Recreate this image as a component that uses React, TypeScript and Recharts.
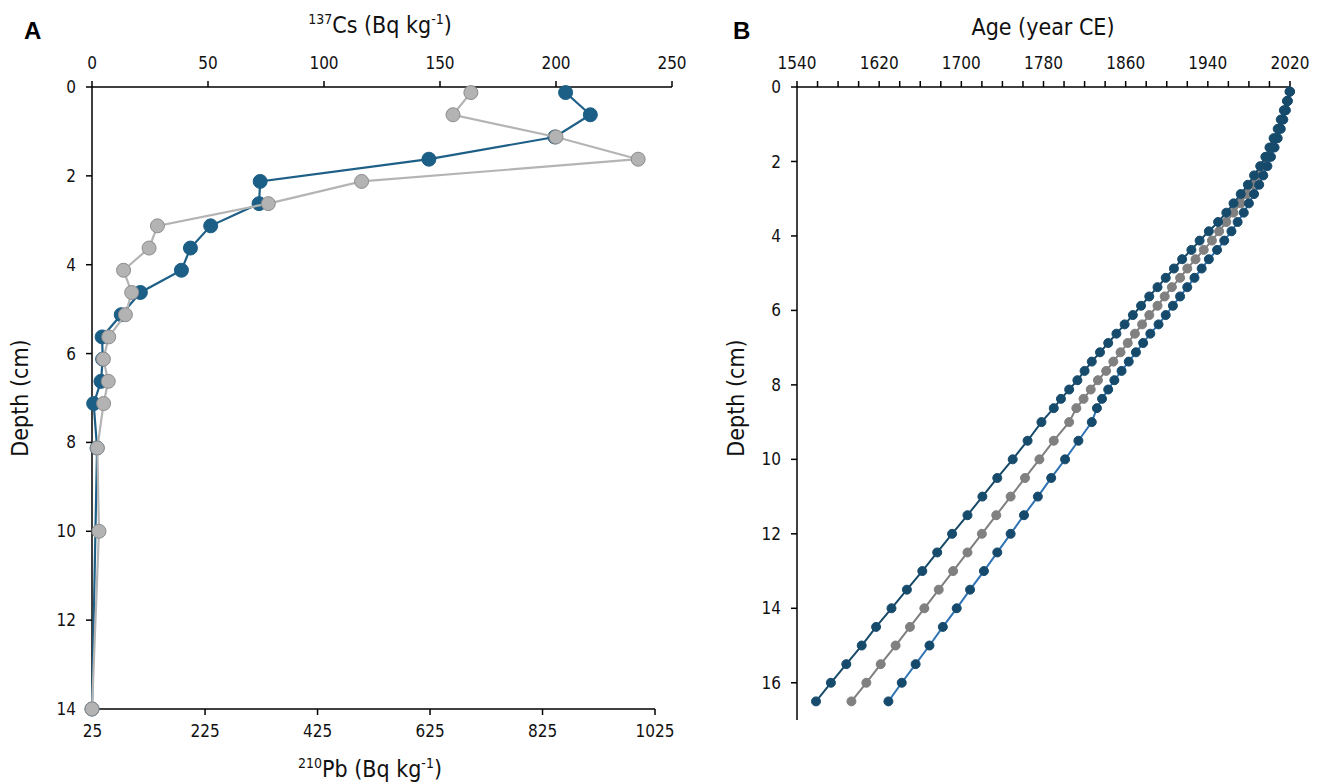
import { ScatterChart, Scatter, XAxis, YAxis, ReferenceLine } from 'recharts';

const FONT = "'Liberation Sans Narrow', 'DejaVu Sans Condensed', 'Noto Sans', sans-serif";

// Panel A: activity profiles (depth in cm)
const depthsPb = [0.125, 0.625, 1.125, 1.625, 2.125, 2.625, 3.125, 3.625, 4.125, 4.625, 5.125, 5.625, 6.125, 6.625, 7.125, 8.125, 14];
const pb210 = [866, 910, 847, 623, 323, 321, 235, 199, 183, 110, 76, 42, 43, 40, 27, 33, 24];
const depthsCs = [0.125, 0.625, 1.125, 1.625, 2.125, 2.625, 3.125, 3.625, 4.125, 4.625, 5.125, 5.625, 6.125, 6.625, 7.125, 8.125, 10, 14];
const cs137 = [163.3, 155.6, 200, 235.4, 116.2, 76, 28.2, 24.6, 13.6, 17.1, 14.4, 7.2, 4.9, 7.0, 5.0, 2.3, 3.0, 0];

const csTicks = [0, 50, 100, 150, 200, 250];
const pbTicks = [25, 225, 425, 625, 825, 1025];
const depthTicksA = [0, 2, 4, 6, 8, 10, 12, 14];

// Panel B: age-depth model (0.25 cm slices to 8.75 cm, then 0.5 cm slices)
const depthsB = [
  0.125, 0.375, 0.625, 0.875, 1.125, 1.375, 1.625, 1.875, 2.125, 2.375, 2.625, 2.875,
  3.125, 3.375, 3.625, 3.875, 4.125, 4.375, 4.625, 4.875, 5.125, 5.375, 5.625, 5.875,
  6.125, 6.375, 6.625, 6.875, 7.125, 7.375, 7.625, 7.875, 8.125, 8.375, 8.625,
  9, 9.5, 10, 10.5, 11, 11.5, 12, 12.5, 13, 13.5, 14, 14.5, 15, 15.5, 16, 16.5,
];
const ageLower = [
  2019.5, 2017, 2014, 2011, 2008, 2004, 2000, 1996, 1991, 1985, 1979, 1972,
  1965, 1958, 1950, 1941, 1932, 1924, 1915, 1907, 1899, 1891, 1883, 1875,
  1867, 1859, 1851, 1843, 1835, 1827, 1820, 1813, 1805, 1797, 1790,
  1778, 1764.5, 1750, 1735, 1720.5, 1706, 1691, 1676.5, 1662, 1647, 1632, 1617, 1603, 1588, 1573, 1558.5,
];
const ageMean = [
  2020, 2017.5, 2015, 2012, 2009, 2006, 2002, 1998, 1994, 1989, 1984, 1978,
  1972, 1965, 1958, 1951, 1944, 1936, 1928, 1920, 1913, 1905, 1898, 1891,
  1883, 1876, 1869, 1862, 1855, 1848, 1841, 1833, 1826, 1819, 1812,
  1805, 1790, 1776, 1762, 1748, 1734, 1720, 1706, 1692, 1678, 1664, 1650, 1636, 1621.5, 1607.5, 1593,
];
const ageUpper = [
  2020, 2018, 2016, 2013.5, 2011, 2008, 2005, 2001.5, 1998, 1994, 1990, 1985,
  1980, 1975, 1969, 1963, 1956, 1949, 1941, 1934, 1927, 1920, 1913, 1906,
  1899, 1892, 1884, 1877, 1870, 1863, 1856, 1849, 1843, 1837, 1832,
  1827, 1814, 1801, 1787.5, 1774.5, 1761, 1748, 1735, 1722, 1708.5, 1695.5, 1682, 1669, 1655.5, 1642, 1629,
];

const yearTicks = [
  1540, 1560, 1580, 1600, 1620, 1640, 1660, 1680, 1700, 1720, 1740, 1760, 1780, 1800,
  1820, 1840, 1860, 1880, 1900, 1920, 1940, 1960, 1980, 2000, 2020,
];
const depthTicksB = [0, 2, 4, 6, 8, 10, 12, 14, 16];

const toPoints = (depths: number[], values: number[]) =>
  depths.map((depth, i) => ({ depth, v: values[i] }));

const dot = (r: number, fill: string, stroke: string) => (props: any) => (
  <circle cx={props.cx} cy={props.cy} r={r} fill={fill} stroke={stroke} strokeWidth={1} />
);

const tickStyle = { fill: '#111', fontSize: 17, fontFamily: FONT };
const axisStroke = { stroke: '#000', strokeWidth: 1.5 };

const titleStyle: React.CSSProperties = {
  position: 'absolute',
  fontFamily: FONT,
  fontSize: 23,
  color: '#111',
  whiteSpace: 'nowrap',
  lineHeight: '26px',
};

const supStyle: React.CSSProperties = { fontSize: 14 };

const letterStyle: React.CSSProperties = {
  position: 'absolute',
  fontFamily: "'Liberation Sans', Arial, sans-serif",
  fontWeight: 'bold',
  fontSize: 24,
  color: '#000',
};

function ActivityPanel() {
  return (
    <ScatterChart width={700} height={784} margin={{ top: 57, right: 28, bottom: 45, left: 52 }}>
      <XAxis
        xAxisId="cs"
        orientation="top"
        type="number"
        dataKey="v"
        domain={[0, 250]}
        ticks={csTicks}
        height={30}
        tick={tickStyle}
        tickSize={6}
        tickMargin={12}
        axisLine={axisStroke}
        tickLine={axisStroke}
      />
      <XAxis
        xAxisId="pb"
        orientation="bottom"
        type="number"
        dataKey="v"
        domain={[25, 1055.2]}
        ticks={pbTicks}
        height={30}
        tick={tickStyle}
        tickSize={6}
        tickMargin={10}
        axisLine={false}
        tickLine={axisStroke}
      />
      <YAxis
        yAxisId="d"
        type="number"
        dataKey="depth"
        reversed
        domain={[0, 14]}
        ticks={depthTicksA}
        width={40}
        tick={tickStyle}
        tickSize={6}
        tickMargin={10}
        axisLine={axisStroke}
        tickLine={axisStroke}
      />
      <ReferenceLine
        xAxisId="pb"
        yAxisId="d"
        segment={[{ x: 25, y: 14 }, { x: 1025, y: 14 }]}
        stroke="#000"
        strokeWidth={1.5}
      />
      <Scatter
        xAxisId="pb"
        yAxisId="d"
        data={toPoints(depthsPb, pb210)}
        line={{ stroke: '#1d5f86', strokeWidth: 2.2 }}
        shape={dot(7, '#1b5e86', '#1b5e86')}
        isAnimationActive={false}
      />
      <Scatter
        xAxisId="cs"
        yAxisId="d"
        data={toPoints(depthsCs, cs137)}
        line={{ stroke: '#b4b4b4', strokeWidth: 2.2 }}
        shape={dot(7, '#b3b3b3', '#8c8c8c')}
        isAnimationActive={false}
      />
    </ScatterChart>
  );
}

function AgePanel() {
  return (
    <ScatterChart width={624} height={784} margin={{ top: 57, right: 34, bottom: 64, left: 57 }}>
      <XAxis
        xAxisId="age"
        orientation="top"
        type="number"
        dataKey="v"
        domain={[1540, 2020]}
        ticks={yearTicks}
        interval={0}
        height={30}
        tick={tickStyle}
        tickFormatter={(y: number) => ((y - 1540) % 80 === 0 ? String(y) : '')}
        tickSize={6}
        tickMargin={12}
        axisLine={axisStroke}
        tickLine={axisStroke}
      />
      <YAxis
        yAxisId="d"
        type="number"
        dataKey="depth"
        reversed
        domain={[0, 17]}
        ticks={depthTicksB}
        width={40}
        tick={tickStyle}
        tickSize={6}
        tickMargin={10}
        axisLine={axisStroke}
        tickLine={axisStroke}
      />
      <Scatter
        xAxisId="age"
        yAxisId="d"
        data={toPoints(depthsB, ageMean)}
        line={{ stroke: '#7f7f7f', strokeWidth: 2 }}
        shape={dot(4.5, '#808080', '#808080')}
        isAnimationActive={false}
      />
      <Scatter
        xAxisId="age"
        yAxisId="d"
        data={toPoints(depthsB, ageUpper)}
        line={{ stroke: '#2f73b3', strokeWidth: 2 }}
        shape={dot(4.5, '#164a6c', '#164a6c')}
        isAnimationActive={false}
      />
      <Scatter
        xAxisId="age"
        yAxisId="d"
        data={toPoints(depthsB, ageLower)}
        line={{ stroke: '#174a68', strokeWidth: 2 }}
        shape={dot(4.5, '#174b6c', '#174b6c')}
        isAnimationActive={false}
      />
    </ScatterChart>
  );
}

export default function App() {
  return (
    <div style={{ position: 'absolute', left: 0, top: 0, width: 1324, height: 784, background: '#fff', overflow: 'hidden' }}>
      <div style={{ position: 'absolute', left: 0, top: 0 }}>
        <ActivityPanel />
      </div>
      <div style={{ position: 'absolute', left: 700, top: 0 }}>
        <AgePanel />
      </div>

      <div style={{ ...letterStyle, left: 24, top: 17 }}>A</div>
      <div style={{ ...letterStyle, left: 733, top: 17 }}>B</div>

      <div style={{ ...titleStyle, left: 230, width: 300, top: 6, textAlign: 'center' }}>
        <sup style={supStyle}>137</sup>Cs (Bq kg<sup style={supStyle}>-1</sup>)
      </div>
      <div style={{ ...titleStyle, left: 220, width: 300, top: 750, textAlign: 'center' }}>
        <sup style={supStyle}>210</sup>Pb (Bq kg<sup style={supStyle}>-1</sup>)
      </div>
      <div style={{ ...titleStyle, left: 893, width: 300, top: 14, textAlign: 'center' }}>Age (year CE)</div>

      <div style={{ ...titleStyle, left: 20 - 100, top: 398 - 13, width: 200, textAlign: 'center', transform: 'rotate(-90deg)' }}>
        Depth (cm)
      </div>
      <div style={{ ...titleStyle, left: 736 - 100, top: 398 - 13, width: 200, textAlign: 'center', transform: 'rotate(-90deg)' }}>
        Depth (cm)
      </div>
    </div>
  );
}
